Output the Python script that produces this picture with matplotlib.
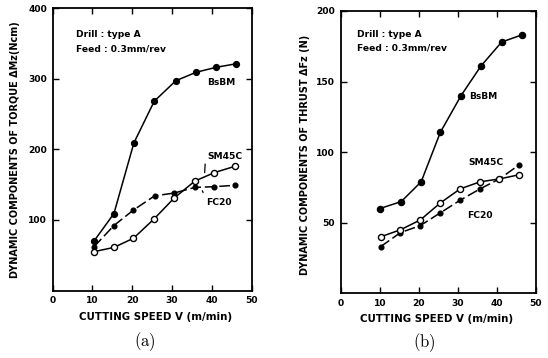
import matplotlib
matplotlib.use("Agg")
import matplotlib.pyplot as plt

plt.rcParams['font.family'] = ['DejaVu Sans']
plt.rcParams['mathtext.fontset'] = 'cm'

# ---- panel (a): torque ----
a_x_bsbm = [10.4, 15.4, 20.4, 25.5, 30.9, 36.0, 41.0, 46.0]
a_bsbm = [70, 109, 209, 268, 297, 309, 316, 321]
a_x_sm45c = [10.4, 15.4, 20.3, 25.4, 30.5, 35.7, 40.6, 45.8]
a_sm45c = [55, 61, 74, 101, 131, 155, 167, 176]
a_x_fc20 = [10.4, 15.4, 20.3, 25.6, 30.5, 35.7, 40.6, 45.8]
a_fc20 = [62, 92, 114, 134, 138, 146, 147, 149]

# ---- panel (b): thrust ----
b_x_bsbm = [10.0, 15.5, 20.6, 25.5, 30.8, 35.9, 41.2, 46.3]
b_bsbm = [60, 65, 79, 114, 140, 161, 178, 183]
b_x_sm45c = [10.2, 15.3, 20.4, 25.5, 30.6, 35.7, 40.6, 45.7]
b_sm45c = [40, 45, 52, 64, 74, 79, 81, 84]
b_x_fc20 = [10.2, 15.3, 20.4, 25.5, 30.6, 35.7, 40.6, 45.7]
b_fc20 = [33, 43, 48, 57, 66, 74, 81, 91]

x_ticks = [0, 10, 20, 30, 40, 50]
a_yticks = [100, 200, 300, 400]
b_yticks = [50, 100, 150, 200]

W, H = 548, 358
fig = plt.figure(figsize=(W / 100, H / 100), dpi=100)

def px_axes(l, r, t, b):
    return fig.add_axes([l / W, 1 - b / H, (r - l) / W, (b - t) / H])

axA = px_axes(52.5, 252, 8, 290.5)
axB = px_axes(340.7, 536, 11, 293.3)

tfont = dict(fontsize=6.6, fontweight='bold', color='black')

def style(ax, ymax, yticks):
    ax.set_xlim(0, 50)
    ax.set_ylim(0, ymax)
    ax.set_xticks(x_ticks)
    ax.set_yticks(yticks)
    ax.tick_params(direction='in', top=True, right=True, length=4, width=1.0,
                   labelsize=6.6, pad=4)
    for lab in ax.get_xticklabels() + ax.get_yticklabels():
        lab.set_fontweight('bold')
    for s in ax.spines.values():
        s.set_linewidth(1.3)
    ax.set_xlabel('CUTTING SPEED V (m/min)', fontsize=7.4, fontweight='bold', labelpad=2)

style(axA, 400, a_yticks)
style(axB, 200, b_yticks)

lw = 1.1
# panel a
axA.plot(a_x_bsbm, a_bsbm, '-', color='black', lw=lw, marker='o', ms=4.2,
         mfc='black', mec='black')
axA.plot(a_x_fc20, a_fc20, '--', color='black', lw=lw, dashes=(7, 2.5), marker='o',
         ms=3.4, mfc='black', mec='black')
axA.plot(a_x_sm45c, a_sm45c, '-', color='black', lw=lw, marker='o', ms=4.4,
         mfc='white', mec='black', mew=1.0)

# panel b
axB.plot(b_x_bsbm, b_bsbm, '-', color='black', lw=lw, marker='o', ms=4.4,
         mfc='black', mec='black')
axB.plot(b_x_fc20, b_fc20, '--', color='black', lw=lw, dashes=(7, 2.5), marker='o',
         ms=3.4, mfc='black', mec='black')
axB.plot(b_x_sm45c, b_sm45c, '-', color='black', lw=lw, marker='o', ms=4.4,
         mfc='white', mec='black', mew=1.0)

# texts panel a
axA.text(6.0, 362, 'Drill : type A', ha='left', va='center', **tfont)
axA.text(6.0, 342, 'Feed : 0.3mm/rev', ha='left', va='center', **tfont)
axA.text(42.3, 294, 'BsBM', ha='center', va='center', **tfont)
axA.text(43.3, 190, 'SM45C', ha='center', va='center', **tfont)
axA.text(41.8, 125, 'FC20', ha='center', va='center', **tfont)
axA.annotate('', xy=(38.1, 163), xytext=(38.3, 183),
             arrowprops=dict(arrowstyle='-', lw=0.9, color='black'))
axA.annotate('', xy=(37.3, 145), xytext=(38.0, 135),
             arrowprops=dict(arrowstyle='-', lw=0.9, color='black'))

# texts panel b
axB.text(4.1, 183.5, 'Drill : type A', ha='left', va='center', **tfont)
axB.text(4.1, 174, 'Feed : 0.3mm/rev', ha='left', va='center', **tfont)
axB.text(33.0, 139.6, 'BsBM', ha='left', va='center', **tfont)
axB.text(37.3, 92.4, 'SM45C', ha='center', va='center', **tfont)
axB.text(35.7, 55.4, 'FC20', ha='center', va='center', **tfont)

# y labels
axA.set_ylabel('DYNAMIC COMPONENTS OF TORQUE ΔMz(Ncm)', fontsize=7.0, fontweight='bold')
axA.yaxis.set_label_coords(-0.165, 0.497)
axB.set_ylabel('DYNAMIC COMPONENTS OF THRUST ΔFz (N)', fontsize=7.0, fontweight='bold')
axB.yaxis.set_label_coords(-0.155, 0.49)
axA.xaxis.set_label_coords(0.519, -0.077)
axB.xaxis.set_label_coords(0.49, -0.072)

# panel captions
fig.text(145 / W, 1 - 342 / H, r'$\mathrm{(a)}$', ha='center', va='center', fontsize=12)
fig.text(424 / W, 1 - 343 / H, r'$\mathrm{(b)}$', ha='center', va='center', fontsize=12)

fig.savefig('out.png', dpi=100)
